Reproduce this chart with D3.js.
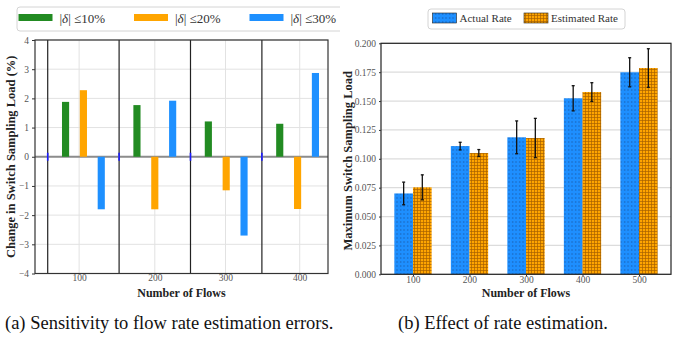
<!DOCTYPE html>
<html>
<head>
<meta charset="utf-8">
<script src="https://cdn.jsdelivr.net/npm/d3@7"></script>
<style>
  html, body { margin: 0; padding: 0; background: #fff; }
  svg { display: block; font-family: "Liberation Serif", "Times New Roman", serif; }
</style>
</head>
<body>
<div id="chart"></div>
<script>
// Left panel data: change in switch sampling load (%) per tolerance
const leftGroups = ['100', '200', '300', '400']
const tol10 = [1.88, 1.77, 1.21, 1.13]
const tol20 = [2.28, -1.80, -1.15, -1.79]
const tol30 = [-1.80, 1.92, -2.70, 2.87]
const leftTickPos = [0.44, 1.5, 2.49, 3.53]
const leftYTicks = [-4, -3, -2, -1, 0, 1, 2, 3, 4]
const leftSeries = ['10%', '20%', '30%']

// Right panel data: max switch sampling load
const rightGroups = ['100', '200', '300', '400', '500']
const actualRate = [0.0700, 0.1110, 0.1186, 0.1524, 0.1749]
const actualErr = [0.0098, 0.0033, 0.0142, 0.0109, 0.0126]
const estRate = [0.0753, 0.1050, 0.1180, 0.1578, 0.1786]
const estErr = [0.0108, 0.0030, 0.0170, 0.0081, 0.0167]
const rightYTicks = [0, 0.025, 0.05, 0.075, 0.1, 0.125, 0.15, 0.175, 0.2]

const FONT = '"Liberation Serif", "Times New Roman", serif'

;(({ width, height }) => {
  const svg = d3.select('#chart').append('svg')
    .attr('width', width).attr('height', height)
  const defs = svg.append('defs')

  // Hatch patterns
  const dots = defs.append('pattern').attr('id', 'dots')
    .attr('patternUnits', 'userSpaceOnUse').attr('width', 3.5).attr('height', 4)
  dots.append('rect').attr('width', 3.5).attr('height', 4).attr('fill', '#1e8fff')
  dots.append('rect').attr('x', 1).attr('y', 1.5).attr('width', 1.2).attr('height', 1)
    .attr('fill', '#163c78').attr('opacity', 0.75)
  const grid = defs.append('pattern').attr('id', 'grid')
    .attr('patternUnits', 'userSpaceOnUse').attr('width', 3).attr('height', 3)
  grid.append('rect').attr('width', 3).attr('height', 3).attr('fill', '#ffa500')
  grid.append('path').attr('d', 'M0,0.5H3M0.5,0V3')
    .attr('stroke', '#8a4b00').attr('stroke-width', 0.7).attr('opacity', 0.75)

  defs.append('clipPath').attr('id', 'leftClip')
    .append('rect').attr('x', 0).attr('y', 0).attr('width', 340).attr('height', height)

  const colors = ['#228b22', '#ffa500', '#1e90ff']
  const tickColor = '#555'

  // ---------- Left chart ----------
  const L = svg.append('g').attr('clip-path', 'url(#leftClip)')
  const lx = d3.scaleLinear().domain([-0.178, 3.926]).range([35, 328])
  const ly = d3.scaleLinear().domain([-4, 4]).range([273.5, 40])

  // grid
  L.append('g').selectAll('line').data(leftYTicks).join('line')
    .attr('x1', lx.range()[0]).attr('x2', lx.range()[1])
    .attr('y1', d => ly(d)).attr('y2', d => ly(d))
    .attr('stroke', '#e2e2e2').attr('stroke-width', 1)
  L.append('g').selectAll('line').data(leftTickPos).join('line')
    .attr('x1', d => lx(d)).attr('x2', d => lx(d))
    .attr('y1', ly.range()[0]).attr('y2', ly.range()[1])
    .attr('stroke', '#e2e2e2').attr('stroke-width', 1)

  // group separators
  L.append('g').selectAll('line').data(leftGroups).join('line')
    .attr('x1', (d, i) => lx(i)).attr('x2', (d, i) => lx(i))
    .attr('y1', ly.range()[0]).attr('y2', ly.range()[1])
    .attr('stroke', '#222').attr('stroke-width', 1.2)

  // zero line
  L.append('line')
    .attr('x1', lx.range()[0]).attr('x2', lx.range()[1])
    .attr('y1', ly(0)).attr('y2', ly(0))
    .attr('stroke', '#8c8c8c').attr('stroke-width', 2)

  // bars
  ;[tol10, tol20, tol30].forEach((vals, k) => {
    L.append('g').selectAll('rect').data(vals).join('rect')
      .attr('x', (d, i) => lx(i + 0.25 * (k + 1) - 0.05))
      .attr('width', lx(0.1) - lx(0))
      .attr('y', d => ly(Math.max(d, 0)))
      .attr('height', d => Math.abs(ly(d) - ly(0)))
      .attr('fill', colors[k])
  })

  // tiny blue markers at group starts
  L.append('g').selectAll('line').data(leftGroups).join('line')
    .attr('x1', (d, i) => lx(i)).attr('x2', (d, i) => lx(i))
    .attr('y1', ly(0) - 4).attr('y2', ly(0) + 4)
    .attr('stroke', '#1a1aff').attr('stroke-width', 1.6)

  // frame
  L.append('rect')
    .attr('x', lx.range()[0]).attr('y', ly.range()[1])
    .attr('width', lx.range()[1] - lx.range()[0])
    .attr('height', ly.range()[0] - ly.range()[1])
    .attr('fill', 'none').attr('stroke', '#333').attr('stroke-width', 1.2)

  // axes
  const lyAxis = L.append('g').attr('transform', `translate(${lx.range()[0]},0)`)
    .call(d3.axisLeft(ly).tickValues(leftYTicks).tickSize(3).tickFormat(d => d < 0 ? '\u2212' + Math.abs(d) : d))
  const lxAxis = L.append('g').attr('transform', `translate(0,${ly.range()[0]})`)
    .call(d3.axisBottom(lx).tickValues(leftTickPos).tickSize(0).tickPadding(1)
      .tickFormat((d, i) => leftGroups[i]))
  ;[lyAxis, lxAxis].forEach(a => {
    a.attr('font-family', FONT)
    a.select('.domain').remove()
    a.selectAll('text').attr('font-family', FONT)
      .attr('font-size', 9.5).attr('fill', tickColor)
    a.selectAll('line').attr('stroke', '#333')
  })

  L.append('text')
    .attr('x', (lx.range()[0] + lx.range()[1]) / 2).attr('y', 297)
    .attr('text-anchor', 'middle').attr('font-weight', 'bold').attr('font-size', 12)
    .attr('fill', '#222').text('Number of Flows')
  L.append('text')
    .attr('transform', `translate(15,${ly(0)}) rotate(-90)`)
    .attr('text-anchor', 'middle').attr('font-weight', 'bold').attr('font-size', 12.5)
    .attr('fill', '#222').text('Change in Switch Sampling Load (%)')

  // legend
  const leg = L.append('g')
  leg.append('rect').attr('x', 17).attr('y', 7).attr('width', 326).attr('height', 24)
    .attr('rx', 3).attr('fill', '#fff').attr('stroke', '#d4d4d4').attr('stroke-width', 1)
  leftSeries.forEach((s, k) => {
    const x0 = 18.5 + k * 115.5
    leg.append('rect').attr('x', x0).attr('y', 14).attr('width', 34).attr('height', 7)
      .attr('fill', colors[k])
    const t = leg.append('text').attr('x', x0 + 41).attr('y', 22.5)
      .attr('font-size', 13).attr('fill', '#333')
    t.append('tspan').text('|')
    t.append('tspan').attr('font-style', 'italic').text('\u03b4')
    t.append('tspan').text('| \u2264' + s)
  })

  svg.append('text').attr('x', 5).attr('y', 329)
    .attr('font-size', 18.5).attr('fill', '#111')
    .text('(a) Sensitivity to flow rate estimation errors.')

  // ---------- Right chart ----------
  const R = svg.append('g')
  const rx = d3.scaleLinear().domain([-0.566, 4.566]).range([381, 671])
  const ry = d3.scaleLinear().domain([0, 0.2]).range([274.3, 43.3])
  const bw = 0.33

  R.append('g').selectAll('line').data(rightYTicks).join('line')
    .attr('x1', rx.range()[0]).attr('x2', rx.range()[1])
    .attr('y1', d => ry(d)).attr('y2', d => ry(d))
    .attr('stroke', '#dcdcdc').attr('stroke-width', 1.2)

  const series = [
    { vals: actualRate, errs: actualErr, fill: 'url(#dots)', off: -bw },
    { vals: estRate, errs: estErr, fill: 'url(#grid)', off: 0 }
  ]
  series.forEach(s => {
    R.append('g').selectAll('rect').data(s.vals).join('rect')
      .attr('x', (d, i) => rx(i + s.off))
      .attr('width', rx(bw) - rx(0))
      .attr('y', d => ry(d))
      .attr('height', d => ry(0) - ry(d))
      .attr('fill', s.fill)
  })
  series.forEach(s => {
    const g = R.append('g').attr('stroke', '#111').attr('stroke-width', 1.3)
    s.vals.forEach((v, i) => {
      const cx = rx(i + s.off + bw / 2)
      g.append('line').attr('x1', cx).attr('x2', cx)
        .attr('y1', ry(v + s.errs[i])).attr('y2', ry(v - s.errs[i]))
      ;[v + s.errs[i], v - s.errs[i]].forEach(e => {
        g.append('line').attr('x1', cx - 1.5).attr('x2', cx + 1.5)
          .attr('y1', ry(e)).attr('y2', ry(e))
      })
    })
  })

  R.append('rect')
    .attr('x', rx.range()[0]).attr('y', ry.range()[1])
    .attr('width', rx.range()[1] - rx.range()[0])
    .attr('height', ry.range()[0] - ry.range()[1])
    .attr('fill', 'none').attr('stroke', '#222').attr('stroke-width', 1.2)

  const ryAxis = R.append('g').attr('transform', `translate(${rx.range()[0]},0)`)
    .call(d3.axisLeft(ry).tickValues(rightYTicks).tickSize(2).tickFormat(d3.format('.3f')))
  const rxAxis = R.append('g').attr('transform', `translate(0,${ry.range()[0]})`)
    .call(d3.axisBottom(rx).tickValues(d3.range(rightGroups.length)).tickSize(2).tickPadding(0)
      .tickFormat((d, i) => rightGroups[i]))
  ;[ryAxis, rxAxis].forEach(a => {
    a.attr('font-family', FONT)
    a.select('.domain').remove()
    a.selectAll('text').attr('font-family', FONT)
      .attr('font-size', 9.5).attr('fill', tickColor)
    a.selectAll('line').attr('stroke', '#333')
  })

  R.append('text')
    .attr('x', (rx.range()[0] + rx.range()[1]) / 2).attr('y', 297)
    .attr('text-anchor', 'middle').attr('font-weight', 'bold').attr('font-size', 12)
    .attr('fill', '#222').text('Number of Flows')
  R.append('text')
    .attr('transform', `translate(352,${(ry.range()[0] + ry.range()[1]) / 2 + 2}) rotate(-90)`)
    .attr('text-anchor', 'middle').attr('font-weight', 'bold').attr('font-size', 12.5)
    .attr('fill', '#222').text('Maximum Switch Sampling Load')

  const rleg = R.append('g')
  rleg.append('rect').attr('x', 428).attr('y', 9).attr('width', 197).attr('height', 20)
    .attr('rx', 3).attr('fill', '#fff').attr('stroke', '#d4d4d4').attr('stroke-width', 1)
  ;[['Actual Rate', 'url(#dots)', 432.5], ['Estimated Rate', 'url(#grid)', 524]].forEach(([label, fill, x0]) => {
    rleg.append('rect').attr('x', x0).attr('y', 13).attr('width', 24).attr('height', 10)
      .attr('fill', fill).attr('stroke', '#222').attr('stroke-width', 0.6)
    rleg.append('text').attr('x', x0 + 27).attr('y', 22)
      .attr('font-size', 11).attr('fill', '#333').text(label)
  })

  svg.append('text').attr('x', 398).attr('y', 329)
    .attr('font-size', 18.5).attr('fill', '#111')
    .text('(b) Effect of rate estimation.')
})({ width: 673, height: 340 })
</script>
</body>
</html>
